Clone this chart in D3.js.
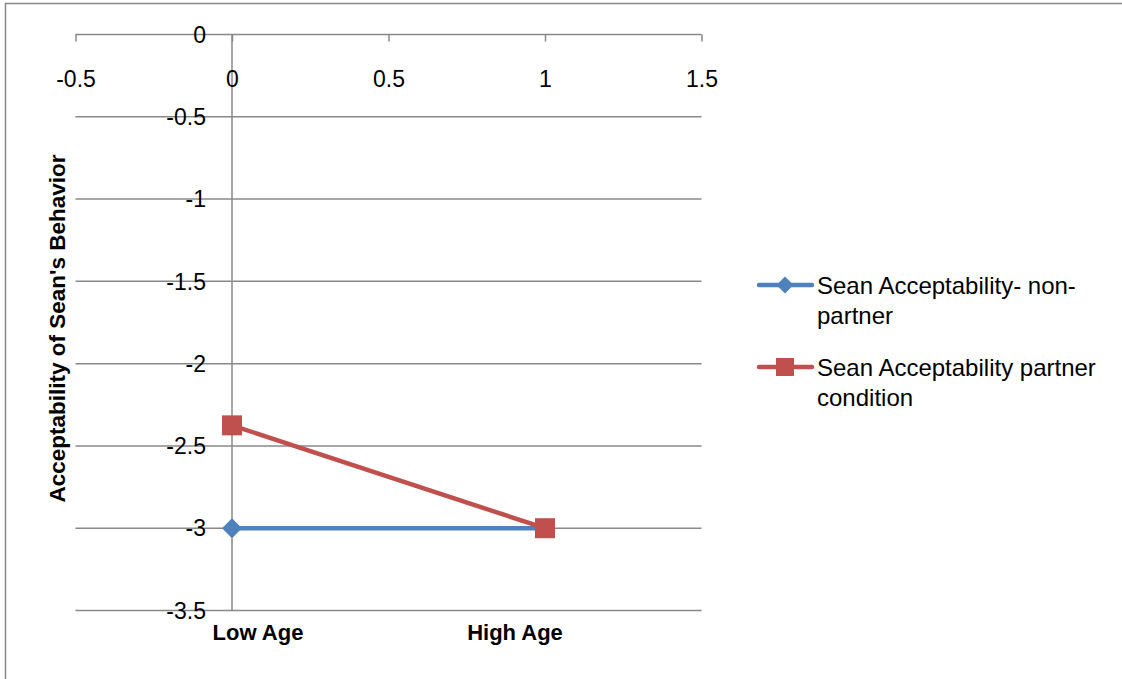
<!DOCTYPE html>
<html><head><meta charset="utf-8">
<script src="https://cdn.jsdelivr.net/npm/d3@7"></script>
<style>html,body{margin:0;padding:0;background:#fff;} svg{display:block;}</style>
</head><body>
<script>
const xTicks = [-0.5, 0, 0.5, 1, 1.5];
const yTicks = [0, -0.5, -1, -1.5, -2, -2.5, -3, -3.5];
const xValues = [0, 1];
const categories = ["Low Age", "High Age"];
const seriesNames = ["Sean Acceptability- non-partner", "Sean Acceptability partner condition"];
const nonPartner = [-3, -3];
const partner = [-2.375, -3];
const yTitle = "Acceptability of Sean's Behavior";

const W = 1122, H = 679;
const font = "'Liberation Sans', Arial, sans-serif";
const grid = "#888888";
const colors = ["#4F81BD", "#C0504D"];
const fmt = d => String(d);

const svg = d3.select("body").append("svg").attr("width", W).attr("height", H);
svg.append("rect").attr("width", W).attr("height", H).attr("fill", "#fff");
svg.append("path").attr("d", `M5.5,${H} V3.5 H${W}`).attr("fill", "none").attr("stroke", "#898989").attr("stroke-width", 1.5);

const x = d3.scaleLinear().domain([-0.5, 1.5]).range([75.5, 701.5]);
const y = d3.scaleLinear().domain([-3.5, 0]).range([610.5, 34.5]);

svg.append("g").selectAll("line").data(yTicks.filter(d => d !== 0)).join("line")
  .attr("x1", x(-0.5)).attr("x2", x(1.5)).attr("y1", d => y(d)).attr("y2", d => y(d))
  .attr("stroke", grid).attr("stroke-width", 1.5);

svg.append("line").attr("x1", x(0)).attr("x2", x(0)).attr("y1", y(0)).attr("y2", y(-3.5))
  .attr("stroke", grid).attr("stroke-width", 1.5);

const xAxis = svg.append("g").attr("transform", `translate(0,${y(0)})`)
  .call(d3.axisBottom(x).tickValues(xTicks).tickSize(7).tickFormat(fmt));
xAxis.select(".domain").attr("stroke", grid).attr("stroke-width", 1.5).attr("d", `M${x(-0.5)},0H${x(1.5)}`);
xAxis.selectAll(".tick line").attr("stroke", grid).attr("stroke-width", 1.5);
xAxis.selectAll(".tick text").attr("font-family", font).attr("font-size", 23).attr("fill", "#000")
  .attr("y", 0).attr("dy", "52");

svg.append("g").selectAll("text").data(yTicks).join("text")
  .attr("x", 206).attr("y", d => y(d)).attr("dy", "0.36em")
  .attr("text-anchor", "end").attr("font-family", font).attr("font-size", 23).attr("fill", "#000")
  .text(fmt);

svg.append("text").attr("transform", `translate(65,${y(-1.75)+6}) rotate(-90)`)
  .attr("text-anchor", "middle").attr("font-family", font).attr("font-size", 22.5).attr("font-weight", "bold")
  .text(yTitle);

const cat = d3.scalePoint().domain(categories).range([258, 515]);
svg.append("g").selectAll("text").data(categories).join("text")
  .attr("x", d => cat(d)).attr("y", 640).attr("text-anchor", "middle")
  .attr("font-family", font).attr("font-size", 22).attr("font-weight", "bold").text(d => d);

const line = d3.line().x((d, i) => x(xValues[i])).y(d => y(d));
[nonPartner, partner].forEach((s, k) => {
  svg.append("path").attr("d", line(s)).attr("fill", "none").attr("stroke", colors[k])
    .attr("stroke-width", 4.5).attr("stroke-linejoin", "round");
});
const diamondPath = r => `M0,${-r}L${r},0L0,${r}L${-r},0Z`;
svg.append("g").selectAll("path").data(nonPartner).join("path")
  .attr("transform", (d, i) => `translate(${x(xValues[i])},${y(d)})`)
  .attr("d", diamondPath(10)).attr("fill", colors[0]);
svg.append("g").selectAll("rect").data(partner).join("rect")
  .attr("x", (d, i) => x(xValues[i]) - 10).attr("y", d => y(d) - 10)
  .attr("width", 20).attr("height", 20).attr("fill", colors[1]);

const legLines = [["Sean Acceptability- non-", "partner"], ["Sean Acceptability partner", "condition"]];
const legY = d3.scalePoint().domain([0, 1]).range([285, 367]);
legLines.forEach((lines, k) => {
  const g = svg.append("g").attr("transform", `translate(0,${legY(k)})`);
  g.append("line").attr("x1", 759).attr("x2", 812).attr("y1", 0).attr("y2", 0)
    .attr("stroke", colors[k]).attr("stroke-width", 4.5).attr("stroke-linecap", "round");
  if (k === 0) g.append("path").attr("transform", "translate(785,0)").attr("d", diamondPath(8.5)).attr("fill", colors[0]);
  else g.append("rect").attr("x", 776).attr("y", -9).attr("width", 18).attr("height", 18).attr("fill", colors[1]);
  lines.forEach((t, j) => g.append("text").attr("x", 817).attr("y", 9 + j * 30)
    .attr("font-family", font).attr("font-size", 24).attr("fill", "#000").text(t));
});
</script>
</body></html>
